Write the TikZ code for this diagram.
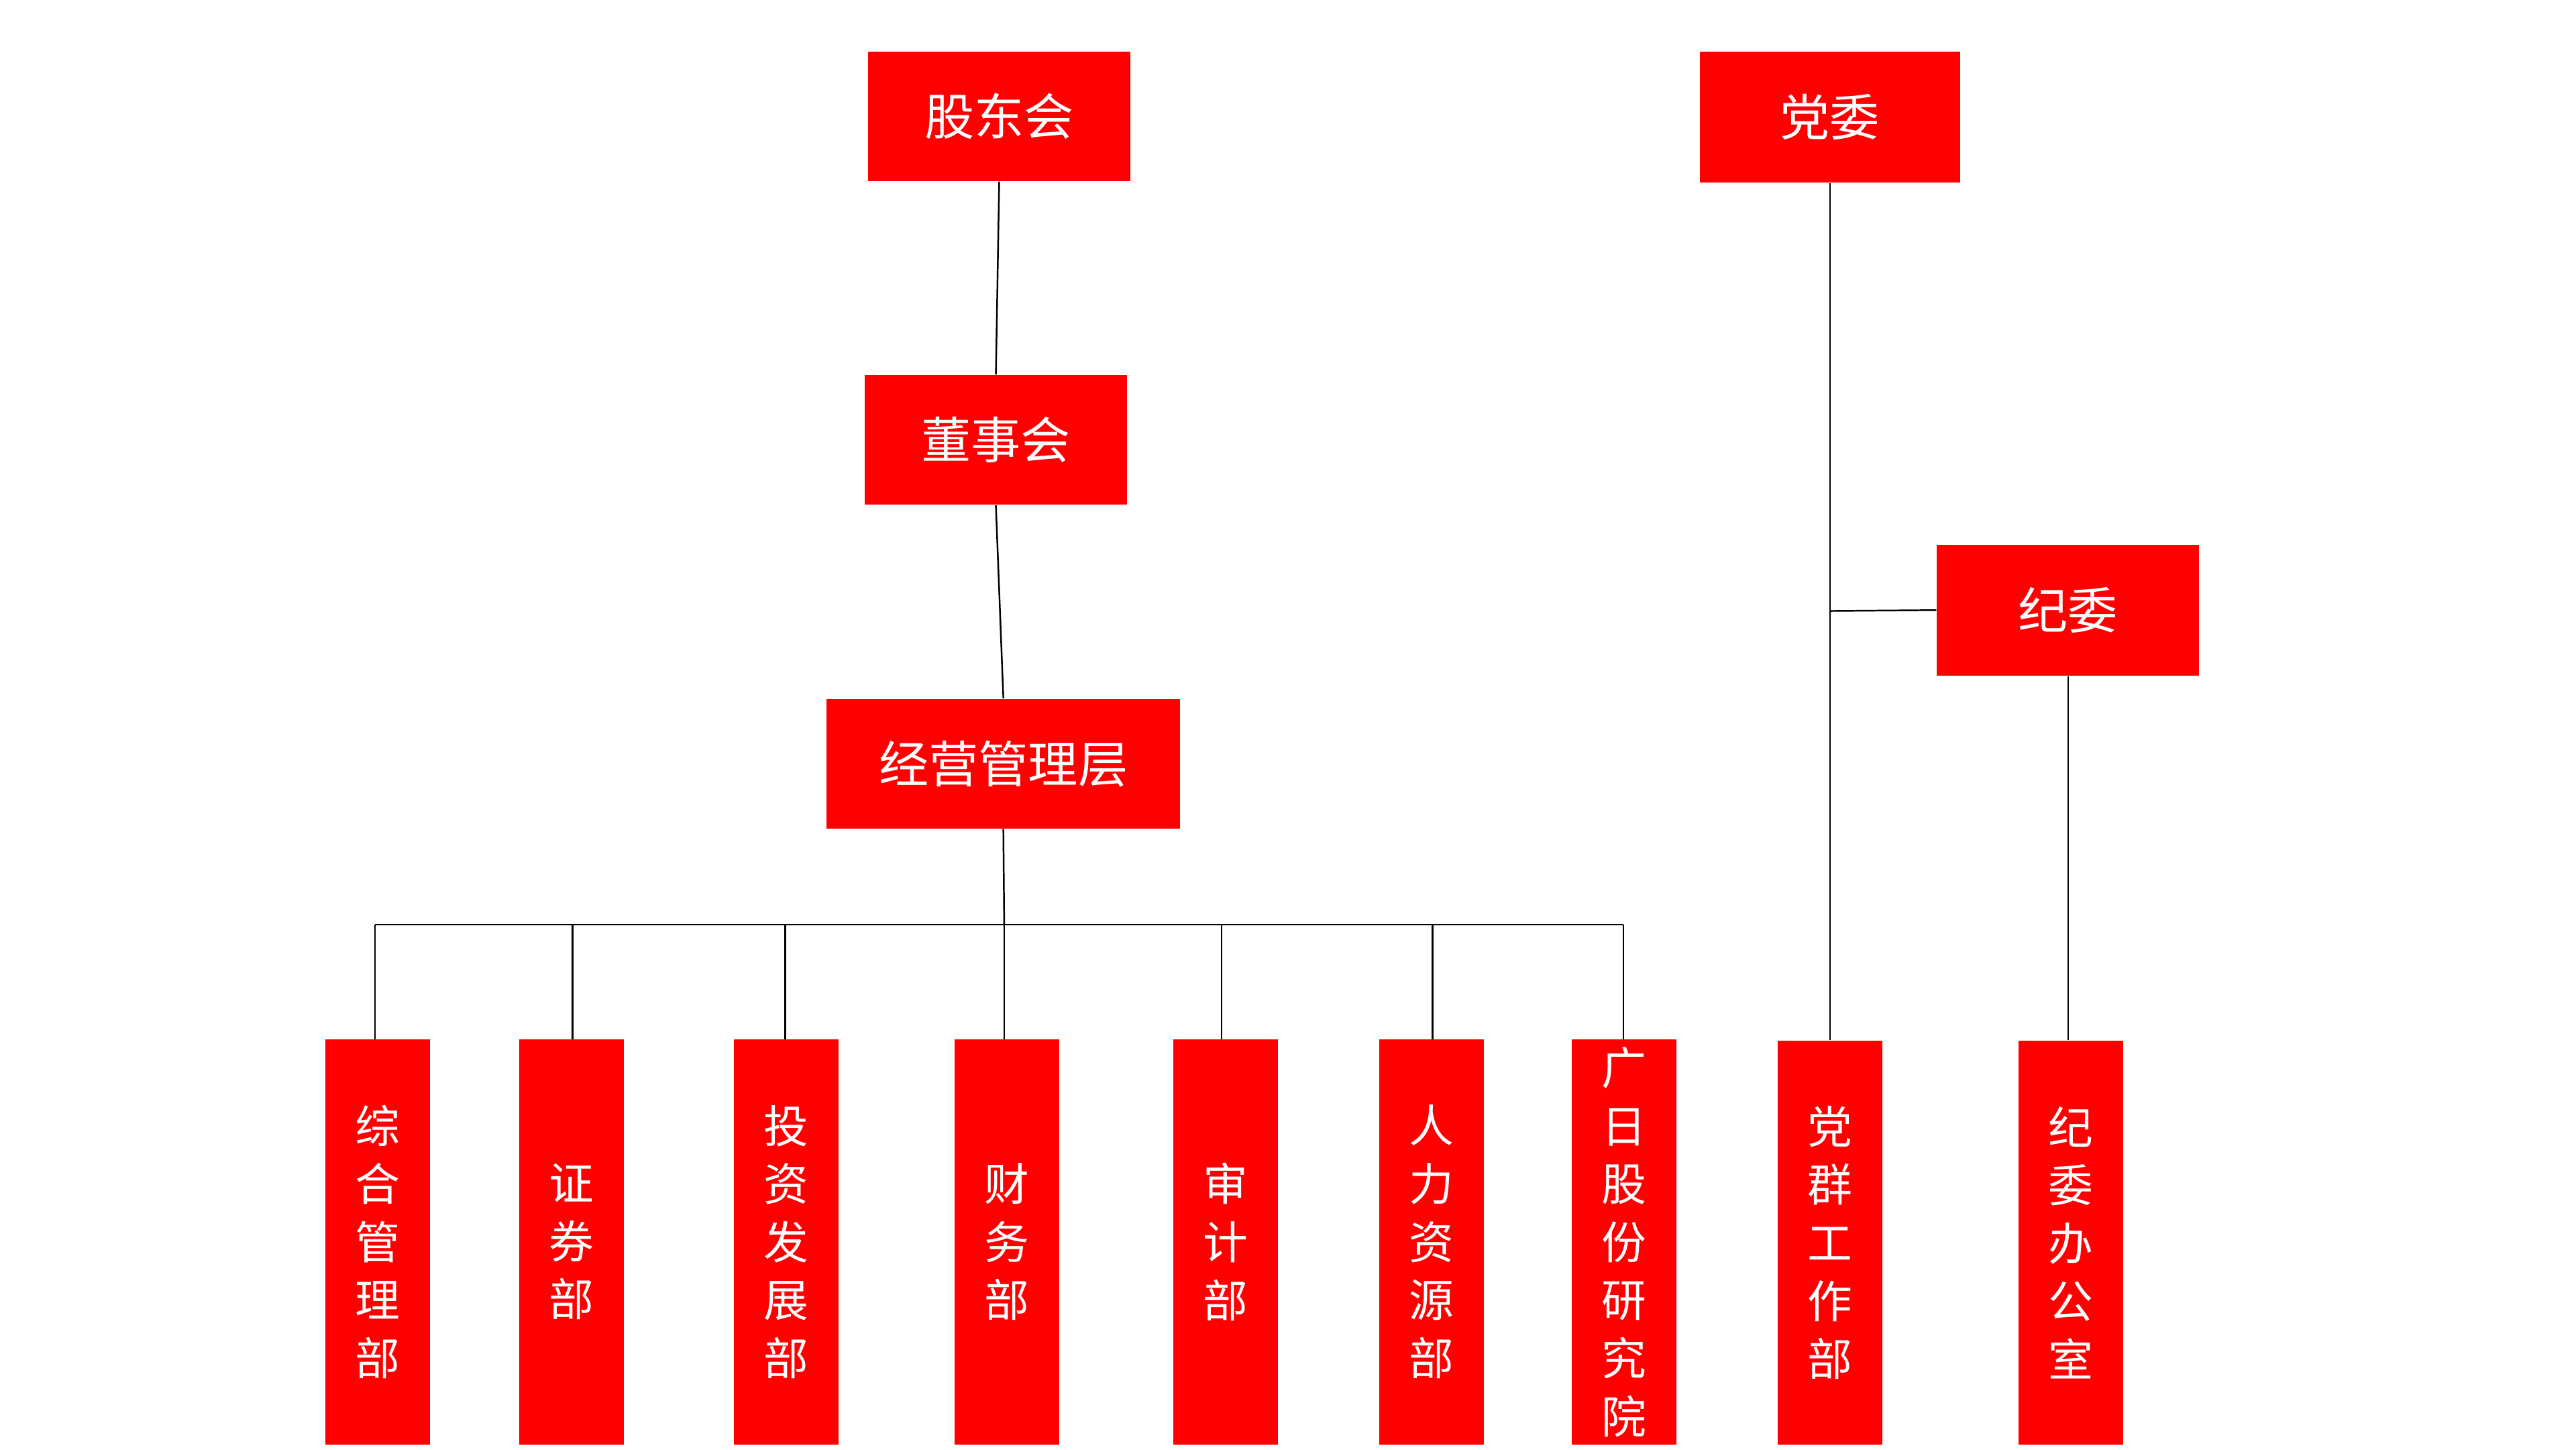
\documentclass[tikz,border=0pt]{standalone}
\usepackage{fontspec}
\setmainfont{Noto Sans CJK SC}
\begin{document}
\begin{tikzpicture}[x=0.5pt,y=-0.5pt,
 box/.style={fill=red,draw=none,text=white,inner sep=0pt,font=\fontsize{15}{18}\selectfont},
 vbox/.style={fill=red,draw=none,text=white,inner sep=0pt,minimum width=31.5pt,minimum height=122pt,align=center,font=\fontsize{13.5}{17.5}\selectfont},
 ln/.style={draw=black,line width=0.5pt}]
\useasboundingbox (0,0) rectangle (1552,873);
\node[box,minimum width=79pt,minimum height=39pt] (gd) at (602,70) {股东会};
\node[box,minimum width=79pt,minimum height=39pt] (ds) at (600,265) {董事会};
\node[box,minimum width=106.5pt,minimum height=39pt] (jy) at (604.5,460) {经营管理层};
\node[box,minimum width=78.5pt,minimum height=39.5pt] (dw) at (1102.5,70.5) {党委};
\node[box,minimum width=79pt,minimum height=39.5pt] (jw) at (1246,367.5) {纪委};
\node[vbox] (b1) at (227.5,748) {综\\合\\管\\理\\部};
\node[vbox] (b2) at (344.5,748) {证\\券\\部};
\node[vbox] (b3) at (473.5,748) {投\\资\\发\\展\\部};
\node[vbox] (b4) at (606.5,748) {财\\务\\部};
\node[vbox] (b5) at (738.5,748) {审\\计\\部};
\node[vbox] (b6) at (862.5,748) {人\\力\\资\\源\\部};
\node[vbox] (b7) at (978.5,748) {广\\日\\股\\份\\研\\究\\院};
\node[vbox,minimum height=121.5pt] (b8) at (1102.5,748.5) {党\\群\\工\\作\\部};
\node[vbox,minimum height=121.5pt] (b9) at (1247.5,748.5) {纪\\委\\办\\公\\室};
\coordinate (busL) at (226,557);
\coordinate (busR) at (978,557);
\coordinate (br) at (1103,368);
\draw[ln] (gd.south) -- (ds.north);
\draw[ln] (ds.south) -- (jy.north);
\draw[ln] (jy.south) -- (605,557);
\draw[ln] (busL) -- (busR);
\foreach \b/\x in {b1/226,b2/345,b3/473,b4/605,b5/736,b6/863,b7/978}
  \draw[ln] (\x,557) -- (\x,626);
\draw[ln] (dw.south) -- (b8.north);
\draw[ln] (br) -- (jw.west);
\draw[ln] (jw.south) -- (b9.north -| jw.south);
\end{tikzpicture}
\end{document}
